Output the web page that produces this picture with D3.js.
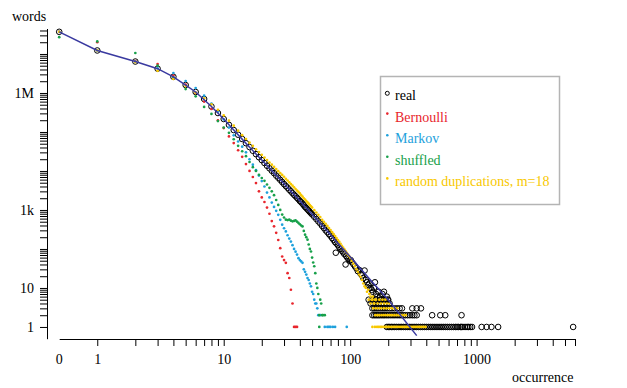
<!DOCTYPE html>
<html>
<head>
<meta charset="utf-8">
<script src="https://cdnjs.cloudflare.com/ajax/libs/d3/7.8.5/d3.min.js"></script>
<style>
  body { margin: 0; background: #fff; }
  svg { display: block; }
  svg text { font-family: "Liberation Serif", "DejaVu Serif", serif; }
</style>
</head>
<body>
<div id="chart"></div>
<script>
// ---- data: [occurrence, words] ----
var realData = [[0,3.7e7],[1,1.23e7],[2,6.4e6],[3,4.2e6],[4,2.6e6],[5,1.6e6],[6,1.06e6],[7,7.0e5],[8,4.5e5],[9,3.06e5],[10,2.15e5],
  [11,1.52e5],[12,1.12e5],[13,8.5e4],[14,6.6e4],[15,5.15e4],[16,4.1e4],[17,3.3e4],[18,2.7e4],[19,2.25e4],[20,1.9e4],
  [21,1.6e4],[22,1.36e4],[23,1.17e4],[24,1.01e4],[25,8.8e3],[26,7.6e3],[27,6.7e3],[28,5.9e3],[29,5.2e3],[30,4.6e3],
  [31,4.1e3],[32,3.7e3],[33,3.3e3],[34,3.0e3],[35,2.7e3],[36,2.45e3],[37,2.25e3],[38,2.05e3],[39,1.88e3],[40,1.7e3],
  [41,1.58e3],[42,1.45e3],[43,1.32e3],[44,1.2e3],[45,1.12e3],[46,1.03e3],[47,960],[48,890],[49,830],[50,770],
  [52,670],[54,585],[56,510],[58,450],[60,390],[62,345],[64,300],[66,270],[68,240],[70,215],[72,190],[74,170],[76,150],
  [77,80],[78,138],[80,125],[82,110],[84,100],[86,90],[88,82],[90,74],[92,40],[93,66],[95,60],[97,55],[99,50],
  [101,52],[103,46],[106,41],[109,36],[112,32],[115,27],[118,29],[121,23],[124,21],[127,18],[130,28],[133,16],
  [136,14],[139,12],[142,13],[145,10],[148,9],[151,8],[154,10],[157,14],[160,7],[164,6],[168,8],[172,6],[176,5],
  [180,7],[185,8],[190,5],[195,6],[200,5]];
// occurrences whose word count is 1, 2, 3, 4, 5 (tail rows)
var realRow1 = [195,200,206,212,218,225,232,240,248,256,265,274,283,293,303,314,325,336,348,360,373,386,400,415,430,445,
  461,478,495,513,531,550,570,590,612,634,657,680,700,718,745,760,780,810,840,860,890,920,1096,1200,1310,1480,5800];
var realRow2 = [150,155,160,165,170,176,182,188,195,202,210,218,226,235,244,253,263,273,285,297,310,322,336,445,516,565,760];
var realRow3 = [150,155,161,167,174,181,188,196,205,214,224,235,246,257,310,336,363];
var realRow4 = [145,152,160,168,176,185,195,205];
var realRow5 = [140,150,160,172,185,198];

var bernoulliData = [[0,3.7e7],[1,2.0e7],[2,6.6e6],[3,5.5e6],[4,2.8e6],[5,1.65e6],[6,1.0e6],[7,6.0e5],[8,3.9e5],[9,2.0e5],
  [10,1.26e5],[11,7.7e4],[12,5.2e4],[13,3.4e4],[14,2.3e4],[15,1.5e4],[16,1.0e4],[17,7.0e3],[18,4.9e3],[19,3.0e3],
  [20,2.1e3],[21,1.6e3],[22,1.15e3],[23,800],[24,520],[25,380],[26,260],[27,170],[28,105],[29,64],[30,52],[31,44],
  [32,24],[33,18],[34,9],[35,4],[36,1],[37,1],[38,1]];

var markovData = [[0,3.7e7],[1,1.23e7],[2,6.4e6],[3,4.3e6],[4,3.25e6],[5,2.03e6],[6,1.34e6],[7,8.5e5],[8,5.3e5],[9,3.3e5],
  [10,2.1e5],[11,1.3e5],[12,8.2e4],[13,5.7e4],[14,4.2e4],[15,3.0e4],[16,2.0e4],[17,1.45e4],[18,1.05e4],[19,7.6e3],
  [20,5.5e3],[21,4.0e3],[22,2.8e3],[23,2.1e3],[24,1.55e3],[25,1.2e3],[26,950],[27,750],[28,560],[29,420],[30,340],
  [31,282],[32,225],[33,185],[34,155],[35,125],[36,100],[37,85],[38,72],[39,58],[40,52],[41,48],[42,44],[43,30],
  [44,26],[45,22],[46,18],[47,16],[48,13],[49,11],[50,8],[51,7],[52,5],[53,4],[54,4],[55,3],[56,2],[58,2],
  [63,1],[66,1],[68,1],[70,1],[73,1],[76,1],[94,1]];

var shuffledData = [[0,2.7e7],[1,2.1e7],[2,1.06e7],[3,5.0e6],[4,2.5e6],[5,1.26e6],[6,8.2e5],[7,4.4e5],[8,2.9e5],[9,1.9e5],
  [10,1.3e5],[11,9.5e4],[12,6.5e4],[13,4.4e4],[14,3.2e4],[15,2.4e4],[16,1.7e4],[17,1.25e4],[18,1.0e4],[19,8.0e3],
  [20,6.6e3],[21,5.6e3],[22,4.5e3],[23,3.7e3],[24,3.0e3],[25,2.4e3],[26,1.8e3],[27,1.35e3],[28,1.0e3],[29,760],
  [30,640],[31,565],[32,550],[33,565],[34,530],[35,510],[36,525],[37,540],[38,500],[39,465],[40,430],[41,400],
  [42,378],[43,290],[44,232],[45,200],[46,173],[47,130],[48,100],[49,86],[50,60],[51,45],[52,36],[53,24],[54,13],
  [55,10],[56,7],[58,5],[59,4],[57,2],[60,2],[61,2],[63,2],[57,1]];

var duplicationData = [[0,3.7e7],[1,1.23e7],[2,6.2e6],[3,3.7e6],[4,2.28e6],[5,1.5e6],[6,1.02e6],[7,7.3e5],[8,5.1e5],
  [9,3.7e5],[10,2.65e5],[11,1.95e5],[12,1.45e5],[13,1.08e5],[14,8.3e4],[15,6.6e4],[16,5.3e4],[17,4.4e4],[18,3.6e4],
  [19,3.05e4],[20,2.6e4],[21,2.2e4],[22,1.9e4],[23,1.65e4],[24,1.45e4],[25,1.27e4],[26,1.12e4],[27,9.9e3],[28,8.8e3],
  [29,7.9e3],[30,7.1e3],[31,6.3e3],[32,5.7e3],[33,5.1e3],[34,4.6e3],[35,4.2e3],[36,3.8e3],[37,3.45e3],[38,3.15e3],
  [39,2.9e3],[40,2.65e3],[41,2.4e3],[42,2.2e3],[43,2.0e3],[44,1.85e3],[45,1.7e3],[46,1.56e3],[47,1.45e3],[48,1.34e3],
  [49,1.24e3],[50,1.15e3],[52,990],[54,860],[56,750],[58,660],[60,560],[62,495],[64,440],[66,390],[68,345],[70,305],
  [72,270],[74,240],[76,215],[78,190],[80,170],[82,152],[84,136],[86,120],[88,108],[90,98],[92,88],[94,80],[96,72],
  [98,66],[100,60],[103,50],[106,42],[109,36],[112,30],[115,26],[118,22],[121,19],[124,16],[127,13],[130,11],
  [133,10],[136,8],[139,9],[142,7],[145,6],[148,5],[151,6],[154,4],[157,5]];
var dupRow1 = [150,157,163,168,173,178,184,190,196,202,208,215,222,229,236,244,252,260,268,277,286,295,305,315,325,336,347,358,370,382,395];
var dupRow2 = [158,164,170,177,184,191,199,207,215,224,233,243,253,264,275];
var dupRow3 = [152,160,168,176,185,194,204,214,225,236];
var dupRow4 = [145,155,165,175,185,195,205];
var dupRow5 = [140,150,160,170,180,190];

// fitted curve
var fitK = [0,1,2,3,4,5,6,8,10,15,20,30,40,60,100,150,200,336];
var fitV = [3.7e7,1.23e7,6.4e6,4.2e6,2.6e6,1.6e6,1.06e6,4.5e5,2.15e5,5.1e4,1.9e4,4.7e3,1.73e3,400,63,14,5,0.6];

var xLabels = [1, 10, 100, 1000];
var yLabelValues = [1, 10, 1000, 1e6];
var yLabelTexts = ['1', '10', '1k', '1M'];

var legendNames = ['real', 'Bernoulli', 'Markov', 'shuffled', 'random duplications, m=18'];
var legendColors = ['#000000', '#e8262d', '#1ea1dc', '#17a04a', '#f8c800'];

var FONT = '"Liberation Serif", "DejaVu Serif", serif';

// ---- helpers ----
function withRows(base, rows) {
    var out = base.slice();
    rows.forEach(function(ks, i) {
        ks.forEach(function(k) { out.push([k, i + 1]); });
    });
    return out;
}

function logTicks(lo, hi) {
    var t = [];
    for (var p = 1; p <= 1e7; p *= 10) {
        for (var d = 1; d < 10; d++) {
            var v = d * p;
            if (v >= lo && v <= hi) t.push(v);
        }
    }
    return t;
}

// ---- chart ----
var width = 627, height = 388;
var svg = d3.select('#chart').append('svg')
    .attr('width', width)
    .attr('height', height)
    .attr('font-family', FONT);

var x = d3.scaleLog().domain([0.5, 6000]).range([59.2, 575]);
var y = d3.scaleLog().domain([0.5, 4.5e7]).range([338.7, 28.5]);

// occurrence 0 sits at 0.5 on the log axis
function px(k) { return x(k === 0 ? 0.5 : k); }

// x axis
var xAxis = d3.axisBottom(x)
    .tickValues(logTicks(1, 6000))
    .tickSize(7)
    .tickSizeOuter(0)
    .tickPadding(8)
    .tickFormat(function(d) { return xLabels.indexOf(d) >= 0 ? String(d) : ''; });
var gx = svg.append('g').attr('transform', 'translate(0,339)').call(xAxis);
gx.attr('font-family', FONT).attr('font-size', 14);
gx.selectAll('text').attr('fill', '#000').attr('font-family', FONT);
gx.append('text')
    .attr('x', x(0.5))
    .attr('y', 15)
    .attr('dy', '0.71em')
    .attr('text-anchor', 'middle')
    .attr('fill', '#000')
    .attr('font-family', FONT)
    .text('0');

// y axis
var yAxis = d3.axisLeft(y)
    .tickValues(logTicks(1, 4.5e7))
    .tickSize(7)
    .tickSizeOuter(0)
    .tickPadding(6)
    .tickFormat(function(d) {
        var i = yLabelValues.indexOf(d);
        return i >= 0 ? yLabelTexts[i] : '';
    });
var gy = svg.append('g').attr('transform', 'translate(47,0)').call(yAxis);
gy.attr('font-family', FONT).attr('font-size', 14);
gy.selectAll('text').attr('fill', '#000').attr('font-family', FONT);

svg.append('text').attr('x', 12).attr('y', 21).attr('font-size', 14)
    .attr('font-family', FONT).text('words');
svg.append('text').attr('x', 573.5).attr('y', 382).attr('font-size', 14)
    .attr('font-family', FONT).attr('text-anchor', 'end').text('occurrence');

// real: open circles
var realAll = withRows(realData, [realRow1, realRow2, realRow3, realRow4, realRow5]);
svg.append('g').selectAll('circle')
    .data(realAll)
    .enter().append('circle')
    .attr('cx', function(d) { return px(d[0]); })
    .attr('cy', function(d) { return y(d[1]); })
    .attr('r', 2.8)
    .attr('fill', 'none')
    .attr('stroke', '#000')
    .attr('stroke-width', 1);

// model series: small dots
var dotSeries = [
    bernoulliData,
    markovData,
    shuffledData,
    withRows(duplicationData, [dupRow1, dupRow2, dupRow3, dupRow4, dupRow5])
];
dotSeries.forEach(function(series, i) {
    svg.append('g').selectAll('circle')
        .data(series)
        .enter().append('circle')
        .attr('cx', function(d) { return px(d[0]); })
        .attr('cy', function(d) { return y(d[1]); })
        .attr('r', 1.35)
        .attr('fill', legendColors[i + 1]);
});

// fitted line on top
var line = d3.line()
    .x(function(d) { return px(d[0]); })
    .y(function(d) { return y(d[1]); });
svg.append('path')
    .datum(fitK.map(function(k, i) { return [k, fitV[i]]; }))
    .attr('d', line)
    .attr('fill', 'none')
    .attr('stroke', '#3a3aa0')
    .attr('stroke-width', 1.5);

// legend
var legend = svg.append('g');
legend.append('rect')
    .attr('x', 380.5).attr('y', 76.5)
    .attr('width', 179).attr('height', 128)
    .attr('fill', '#fff')
    .attr('stroke', '#b4b4b4')
    .attr('stroke-width', 1.5);
legendNames.forEach(function(name, i) {
    var base = 100 + i * 21.6;
    if (i === 0) {
        legend.append('circle').attr('cx', 387.3).attr('cy', base - 6.7).attr('r', 2)
            .attr('fill', 'none').attr('stroke', '#000').attr('stroke-width', 1);
    } else {
        legend.append('circle').attr('cx', 387.3).attr('cy', base - 8).attr('r', 1.3)
            .attr('fill', legendColors[i]);
    }
    legend.append('text')
        .attr('x', 395).attr('y', base)
        .attr('font-size', 14)
        .attr('font-family', FONT)
        .attr('fill', legendColors[i])
        .text(name);
});
</script>
</body>
</html>
